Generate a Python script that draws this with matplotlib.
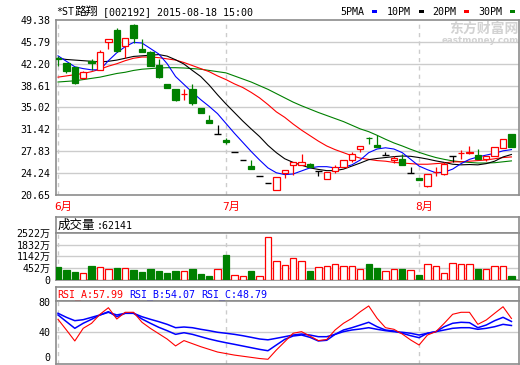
import matplotlib
matplotlib.use("Agg")
import matplotlib.pyplot as plt
from matplotlib.patches import Rectangle
from matplotlib.transforms import blended_transform_factory

plt.rcParams["font.family"] = ["DejaVu Sans Mono", "Noto Sans CJK SC"]

W, H, DPI = 520, 365, 100

# daily candles, 2015-06-01 .. 2015-08-18
opens = [43.1, 42.3, 41.6, 39.9, 42.7, 41.2, 45.8, 47.8, 45.1, 48.6,
         44.6, 44.2, 42.0, 38.9, 38.1, 37.2, 38.0, 34.9, 33.0, 30.65,
         29.6, 27.7, 26.4, 25.4, 23.8, 22.7, 21.5, 24.3, 25.6, 25.6,
         25.8, 24.65, 23.3, 24.6, 25.2, 26.4, 28.2, 30.05, 28.8, 27.2,
         26.4, 26.6, 24.3, 23.4, 22.1, 24.4, 24.1, 27.1, 27.5, 27.6,
         27.2, 26.5, 27.1, 28.4, 30.65]
highs = [43.5, 42.4, 41.7, 41.0, 42.9, 44.4, 46.3, 48.0, 46.5, 48.7,
         46.3, 44.3, 42.9, 38.9, 38.1, 38.0, 38.8, 34.9, 33.8, 32.1,
         30.0, 27.7, 26.4, 26.4, 23.8, 22.7, 23.6, 24.7, 26.1, 27.4,
         25.9, 24.65, 24.4, 25.5, 26.4, 27.7, 28.7, 30.2, 30.5, 27.7,
         27.1, 27.45, 25.3, 23.4, 24.1, 25.2, 26.1, 27.1, 28.0, 28.7,
         28.2, 27.1, 28.5, 29.8, 30.65]
lows = [41.8, 40.7, 38.8, 39.7, 41.1, 41.1, 44.6, 44.1, 43.2, 45.6,
        44.1, 41.9, 39.9, 38.2, 36.1, 36.3, 35.5, 34.1, 32.4, 30.65,
        29.0, 27.7, 26.4, 25.0, 23.8, 22.7, 21.4, 23.5, 24.0, 25.6,
        25.2, 23.7, 23.2, 24.2, 25.2, 26.1, 27.7, 29.05, 28.55, 27.2,
        25.9, 25.5, 24.3, 23.1, 21.95, 23.7, 24.0, 26.1, 26.6, 27.3,
        26.5, 26.3, 27.1, 28.4, 28.45]
closes = [42.9, 41.0, 39.0, 40.85, 42.3, 44.2, 46.3, 44.3, 46.5, 46.5,
          44.2, 41.9, 40.1, 38.2, 36.3, 37.3, 35.8, 34.1, 32.4, 30.65,
          29.3, 27.7, 26.4, 25.0, 23.8, 22.7, 23.6, 24.7, 26.1, 26.1,
          25.2, 24.65, 24.4, 25.3, 26.4, 27.4, 28.7, 30.0, 28.55, 27.2,
          26.8, 25.5, 24.3, 23.1, 24.1, 24.45, 25.8, 27.1, 27.6, 27.7,
          26.5, 27.1, 28.5, 29.8, 28.45]

ma5 = [43.5, 42.6, 41.7, 41.4, 41.2, 41.2, 42.7, 44.0, 45.0, 45.7,
       45.6, 44.7, 43.8, 42.2, 40.1, 38.8, 37.5, 36.3, 35.2, 34.0,
       32.4, 30.8, 29.3, 27.8, 26.4, 25.1, 24.3, 24.0, 24.1, 24.6,
       25.1, 25.3, 25.3, 25.1, 25.2, 25.6, 26.4, 27.6, 28.2, 28.4,
       28.2, 27.6, 26.5, 25.4, 24.8, 24.3, 24.4, 24.9, 25.8, 26.5,
       26.9, 27.2, 27.5, 27.9, 28.1]
ma10 = [43.1, 42.9, 42.8, 42.7, 42.6, 42.5, 42.6, 42.8, 43.1, 43.4,
        43.5, 43.6, 43.7, 43.45, 42.85, 42.15, 41.1, 40.1, 38.7, 37.1,
        35.6, 34.2, 32.8, 31.5, 30.25, 28.8, 27.6, 26.6, 26.0, 25.55,
        25.1, 24.85, 24.65, 24.65, 24.9, 25.4, 25.9, 26.45, 26.65, 26.8,
        26.95, 27.05, 27.0, 26.8, 26.55, 26.25, 26.0, 25.7, 25.6, 25.65,
        25.6, 25.8, 26.2, 26.9, 27.3]
ma20 = [40.0, 40.2, 40.4, 40.6, 40.9, 41.3, 41.8, 42.2, 42.7, 43.1,
        43.3, 43.3, 43.2, 43.0, 42.8, 42.4, 41.9, 41.4, 40.9, 40.2,
        39.6, 38.9, 38.3, 37.5, 36.6, 35.5, 34.3, 33.4, 32.3, 31.3,
        30.4, 29.5, 28.7, 28.1, 27.6, 27.1, 26.7, 26.5, 26.3, 26.2,
        26.0, 25.9, 25.8, 25.7, 25.7, 25.8, 25.9, 26.1, 26.1, 26.2,
        26.3, 26.4, 26.6, 26.8, 26.9]
ma30 = [39.2, 39.3, 39.4, 39.6, 39.8, 40.0, 40.3, 40.6, 40.8, 41.1,
        41.3, 41.4, 41.5, 41.55, 41.55, 41.5, 41.4, 41.3, 41.1, 40.9,
        40.7, 40.2, 39.7, 39.2, 38.6, 38.0, 37.3, 36.6, 35.9, 35.3,
        34.75, 34.2, 33.7, 33.2, 32.7, 32.1, 31.5, 31.05, 30.45, 29.8,
        29.2, 28.7, 28.15, 27.65, 27.2, 26.8, 26.5, 26.25, 26.1, 26.0,
        25.9, 25.9, 25.95, 26.1, 26.25]

# volume, drawn on the chart's own (equal step) scale
volume = [787, 609, 491, 414, 846, 787, 651, 727, 727, 609,
          491, 668, 550, 432, 550, 550, 668, 373, 254, 668,
          1437, 296, 237, 550, 213, 2484, 1082, 887, 1301, 1082,
          550, 787, 846, 946, 846, 846, 668, 905, 727, 550,
          668, 668, 609, 313, 946, 846, 432, 1005, 946, 905,
          668, 668, 846, 846, 254]

rsi_a = [56.9, 42.9, 28.5, 45.1, 51.7, 63.5, 72.1, 57.3, 66.1, 66.1,
         53.0, 45.0, 38.0, 31.0, 22.0, 29.0, 25.0, 21.0, 17.5, 14.0,
         12.0, 10.0, 8.5, 7.0, 5.5, 4.5, 16.6, 27.5, 38.6, 40.7,
         35.0, 29.0, 30.4, 42.9, 51.7, 58.2, 66.9, 74.4, 58.2, 45.9,
         43.8, 37.6, 29.8, 23.2, 36.3, 40.7, 51.7, 63.5, 66.1, 66.1,
         50.3, 56.0, 64.8, 73.4, 57.99]
rsi_b = [62.6, 53.8, 45.1, 51.7, 56.9, 62.6, 66.9, 60.3, 64.8, 64.8,
         57.3, 51.7, 46.4, 42.0, 37.2, 39.3, 37.2, 34.1, 31.1, 28.5,
         26.2, 24.1, 21.9, 19.7, 17.5, 15.7, 23.2, 30.6, 35.0, 36.3,
         33.3, 28.5, 29.4, 37.2, 42.9, 45.9, 49.4, 53.0, 47.2, 42.9,
         41.6, 38.6, 35.4, 32.8, 38.6, 40.7, 47.2, 51.7, 53.0, 52.5,
         45.9, 49.4, 55.1, 59.5, 54.07]
rsi_c = [64.8, 59.5, 55.1, 56.4, 59.5, 62.6, 66.1, 62.6, 64.8, 64.8,
         60.3, 56.9, 53.8, 50.3, 45.9, 46.8, 45.9, 43.8, 42.0, 39.9,
         38.6, 37.2, 35.4, 33.3, 31.1, 30.0, 32.0, 34.1, 36.3, 37.6,
         36.3, 34.1, 34.1, 37.2, 40.7, 42.9, 44.2, 45.9, 43.8, 42.0,
         40.7, 39.9, 38.6, 36.3, 38.6, 40.7, 42.9, 45.1, 45.9, 45.9,
         43.8, 45.1, 47.2, 50.3, 48.79]

price_ticks = [20.65, 24.24, 27.83, 31.42, 35.02, 38.61, 42.20, 45.79, 49.38]
vol_ticks = [0, 690, 1380, 2070, 2760]
vol_tick_labels = ["0", "452万", "1142万", "1832万", "2522万"]
rsi_ticks = [0, 40, 80]
month_labels = ["6月", "7月", "8月"]
month_starts = [0, 20, 43]

RED = "#ff0000"
GREEN = "#008000"
BLUE = "#0000ff"
GRID = "#cccccc"
BORDER = "#8c8c8c"
BW = 0.76  # candle / bar width in days
FS = 7.2

n = len(closes)
xs = list(range(n))
XLIM = (-0.24, 54.9)


def px_axes(fig, left, top, right, bottom):
    return fig.add_axes([left / W, 1 - bottom / H, (right - left) / W, (bottom - top) / H])


def frame(ax):
    for s in ax.spines.values():
        s.set_color(BORDER)
        s.set_linewidth(1.2)
    ax.tick_params(length=0, pad=4, labelsize=FS)
    ax.set_xlim(*XLIM)
    ax.set_xticks([])


def header(fig, top, bottom):
    hx = px_axes(fig, 56, top, 519, bottom)
    for s in hx.spines.values():
        s.set_color(BORDER)
        s.set_linewidth(1.2)
    hx.set_xticks([])
    hx.set_yticks([])
    return hx


fig = plt.figure(figsize=(W / DPI, H / DPI), dpi=DPI)

# ---- price panel
ax = px_axes(fig, 56, 20, 519, 195)
frame(ax)
ax.set_ylim(price_ticks[0], price_ticks[-1])
ax.set_yticks(price_ticks)
ax.set_yticklabels([f"{v:.2f}" for v in price_ticks])
for v in price_ticks[1:-1]:
    ax.axhline(v, color=GRID, lw=1.0, zorder=0)
for m in month_starts:
    ax.axvline(m, color=GRID, lw=1.0, ls=(0, (3, 3)), zorder=0)

for ma, col in [(ma30, GREEN), (ma20, RED), (ma10, "black"), (ma5, BLUE)]:
    ax.plot(xs, ma, color=col, lw=0.8, zorder=2)

for i, (o, h, l, c) in enumerate(zip(opens, highs, lows, closes)):
    col = RED if c > o else (GREEN if c < o else "black")
    ax.vlines(i, l, h, color=col, lw=0.9, zorder=3)
    if c == o:
        ax.hlines(c, i - BW / 2, i + BW / 2, color=col, lw=1.0, zorder=4)
    else:
        face = "white" if c > o else GREEN
        ax.add_patch(Rectangle((i - BW / 2, min(o, c)), BW, abs(c - o),
                               facecolor=face, edgecolor=col, lw=0.9, zorder=4))

tr = blended_transform_factory(ax.transData, ax.transAxes)
for m, lab in zip(month_starts, month_labels):
    ax.text(m - 0.5, -0.066, lab, transform=tr, ha="left", va="center",
            color=RED, fontsize=8)

# title + legend (shared baseline)
TY = 1 - 15 / H
fig.text(56.5 / W, TY, "*ST", fontsize=FS, va="baseline")
fig.text(75 / W, TY, "路翔", fontsize=8.5, va="baseline")
fig.text(103 / W, TY, "[002192] 2015-08-18 15:00", fontsize=FS, va="baseline")
legend = [("5PMA", BLUE, 340.5), ("10PM", "black", 387), ("20PM", RED, 432.5), ("30PM", GREEN, 478)]
for lab, col, x0 in legend:
    fig.text(x0 / W, TY, lab, fontsize=FS, va="baseline")
    fig.patches.append(Rectangle(((x0 + 31.5) / W, 1 - 12.5 / H), 5 / W, 3 / H,
                                 transform=fig.transFigure, facecolor=col, edgecolor="none"))

# watermark
fig.text(519 / W, 1 - 29 / H, "东方财富网", fontsize=10, ha="right", va="center",
         color="#d2d2d2", fontweight="bold", family=["Noto Sans CJK SC"])
fig.text(519 / W, 1 - 40.5 / H, "eastmoney.com", fontsize=6.3, ha="right", va="center",
         color="#d2d2d2", fontweight="bold", family=["DejaVu Sans"])

# ---- volume panel
hv = header(fig, 217, 232.7)
hv.text(0.003, 0.45, "成交量", transform=hv.transAxes, fontsize=9, va="center")
hv.text(0.088, 0.45, ":62141", transform=hv.transAxes, fontsize=FS, va="center")

av = px_axes(fig, 56, 232.7, 519, 280)
frame(av)
av.set_ylim(vol_ticks[0], vol_ticks[-1])
av.set_yticks(vol_ticks)
av.set_yticklabels(vol_tick_labels)
for v in vol_ticks[1:-1]:
    av.axhline(v, color=GRID, lw=1.0, zorder=0)
for m in month_starts:
    av.axvline(m, color=GRID, lw=1.0, ls=(0, (3, 3)), zorder=0)
for i, (o, c, v) in enumerate(zip(opens, closes, volume)):
    up = c >= o
    av.add_patch(Rectangle((i - BW / 2, 0), BW, v,
                           facecolor="white" if up else GREEN,
                           edgecolor=RED if up else GREEN, lw=0.9, zorder=3))

# ---- RSI panel
hr = header(fig, 286.7, 300.7)
hr.text(0.003, 0.45, "RSI_A:57.99", transform=hr.transAxes, fontsize=FS, va="center", color=RED)
hr.text(0.158, 0.45, "RSI_B:54.07", transform=hr.transAxes, fontsize=FS, va="center", color=BLUE)
hr.text(0.313, 0.45, "RSI_C:48.79", transform=hr.transAxes, fontsize=FS, va="center", color=BLUE)

ar = px_axes(fig, 56, 300.7, 519, 364)
frame(ar)
ar.set_ylim(-1.7, 81.3)
ar.set_yticks(rsi_ticks)
ar.set_yticklabels([str(t) for t in rsi_ticks])
ar.get_yticklabels()[0].set_va("bottom")
ar.axhline(40, color=GRID, lw=1.0, zorder=0)
for m in month_starts:
    ar.axvline(m, color=GRID, lw=1.0, ls=(0, (3, 3)), zorder=0)
ar.plot(xs, rsi_c, color=BLUE, lw=1.1, zorder=2)
ar.plot(xs, rsi_b, color=BLUE, lw=1.1, zorder=2)
ar.plot(xs, rsi_a, color=RED, lw=0.8, zorder=3)

fig.savefig("out.png", dpi=DPI, facecolor="white")
